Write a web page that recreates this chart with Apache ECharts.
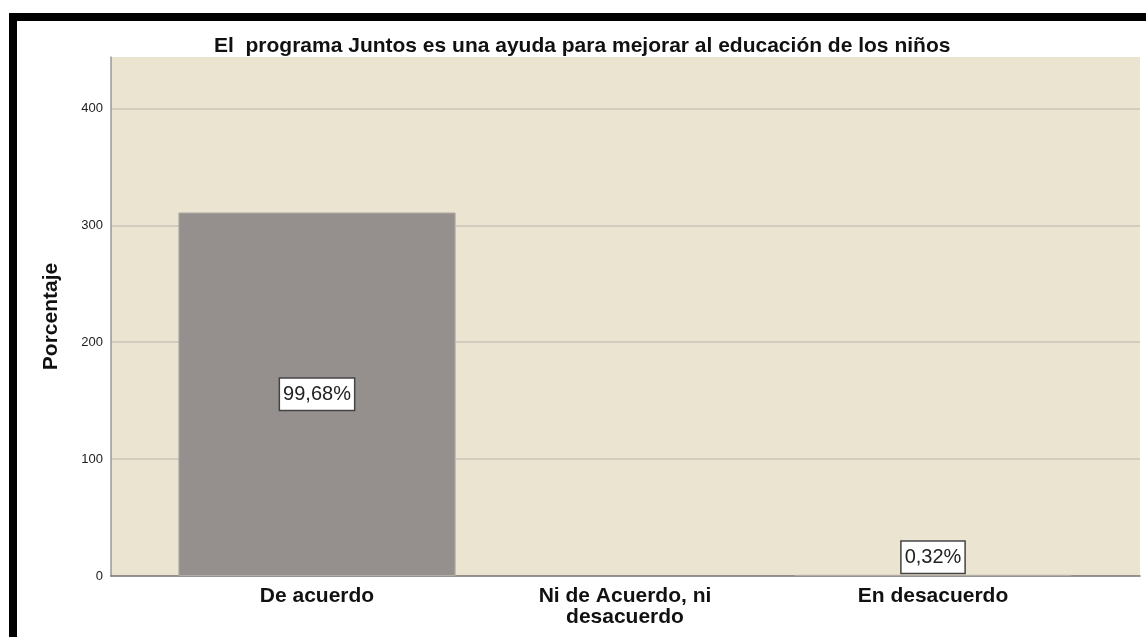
<!DOCTYPE html>
<html>
<head>
<meta charset="utf-8">
<script src="https://cdn.jsdelivr.net/npm/echarts@6/dist/echarts.min.js"></script>
<style>
  html, body { margin: 0; padding: 0; background: #fff; }
  #chart { width: 1146px; height: 637px; }
</style>
</head>
<body>
<div id="chart"></div>
<script>
// values
const categories = ["De acuerdo", "Ni de Acuerdo, ni\ndesacuerdo", "En desacuerdo"];
const counts = [311, 0, 1];
const pctLabels = ["99,68%", "", "0,32%"];
const yMin = 0;
const yMax = 444;
const yStep = 100;

const font = "Liberation Sans, Arial, sans-serif";
const chart = echarts.init(document.getElementById("chart"));

const barData = counts.map((v, i) => ({
  value: v,
  itemStyle: v === 0 ? { borderWidth: 0 } : {},
  label: {
    show: pctLabels[i] !== "",
    position: v > 50 ? "inside" : "top",
    distance: 2,
  },
}));

let option = {
  backgroundColor: "#fff",
  animation: false,
  title: {
    text: "El  programa Juntos es una ayuda para mejorar al educación de los niños",
    left: 209,
    top: 31,
    textStyle: {
      fontFamily: font,
      fontSize: 21,
      fontWeight: "bold",
      color: "#111",
    },
  },
  graphic: [
    { type: "rect", shape: { x: 9, y: 13, width: 1137, height: 8 }, style: { fill: "#000" } },
    { type: "rect", shape: { x: 9, y: 13, width: 8, height: 624 }, style: { fill: "#000" } },
  ],
  grid: [
    // background panel with y axis and grid lines
    {
      left: 111,
      right: 6,
      top: 57,
      bottom: 61,
      show: true,
      backgroundColor: "#eae4d0",
      borderWidth: 0,
    },
    // bars sit inside with padding on both sides
    {
      left: 163,
      right: 59,
      top: 57,
      bottom: 61,
    },
  ],
  xAxis: [
    {
      gridIndex: 0,
      type: "category",
      data: categories,
      axisLabel: { show: false },
      axisTick: { show: false },
      axisLine: { show: true, lineStyle: { color: "#77736d", width: 1.5 } },
      splitLine: { show: false },
    },
    {
      gridIndex: 1,
      type: "category",
      data: categories,
      axisLine: { show: false },
      axisTick: { show: false },
      axisLabel: {
        margin: 10,
        fontFamily: font,
        fontSize: 21,
        fontWeight: "bold",
        color: "#111",
        lineHeight: 21,
        interval: 0,
      },
    },
  ],
  yAxis: [
    {
      gridIndex: 0,
      type: "value",
      min: yMin,
      max: yMax,
      interval: yStep,
      name: "Porcentaje",
      nameLocation: "middle",
      nameRotate: 90,
      nameGap: 49,
      nameTextStyle: {
        fontFamily: font,
        fontSize: 21,
        fontWeight: "bold",
        color: "#111",
      },
      axisLine: { show: true, lineStyle: { color: "#999", width: 1.5 } },
      axisTick: { show: false },
      axisLabel: {
        margin: 8,
        fontFamily: font,
        fontSize: 13,
        color: "#222",
        showMaxLabel: false,
      },
      splitLine: {
        show: true,
        showMinLine: false,
        showMaxLine: false,
        lineStyle: { color: "#c9c4b8", width: 1.5 },
      },
    },
    {
      gridIndex: 1,
      type: "value",
      min: yMin,
      max: yMax,
      show: false,
      splitLine: { show: false },
    },
  ],
  series: [
    {
      type: "bar",
      xAxisIndex: 1,
      yAxisIndex: 1,
      data: barData,
      barCategoryGap: "10%",
      itemStyle: {
        color: "#958f8e",
        borderColor: "#b3ada5",
        borderWidth: 1,
      },
      label: {
        formatter: (p) => pctLabels[p.dataIndex],
        fontFamily: font,
        fontSize: 20,
        color: "#222",
        backgroundColor: "#fff",
        borderColor: "#444",
        borderWidth: 1.5,
        padding: [6, 3, 5, 3],
      },
    },
  ],
};

chart.setOption(option);
window.addEventListener("resize", () => {
  chart.resize();
});
</script>
</body>
</html>
